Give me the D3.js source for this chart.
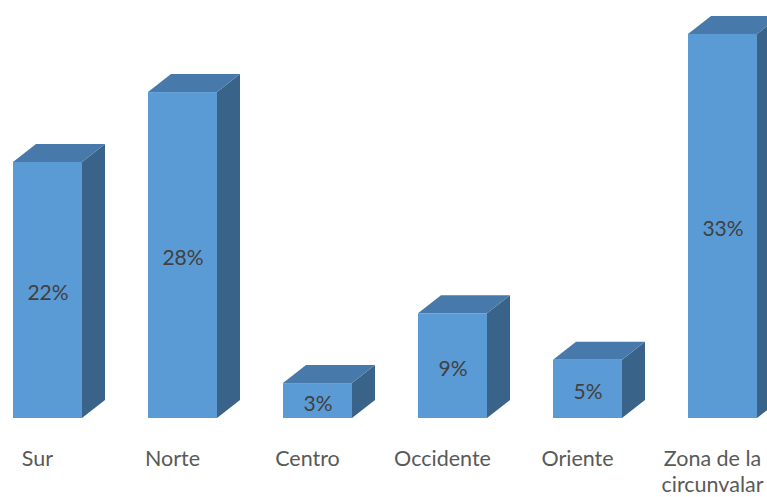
<!DOCTYPE html>
<html><head><meta charset="utf-8">
<script src="https://cdn.jsdelivr.net/npm/d3@7"></script>
<style>html,body{margin:0;padding:0;background:#fff;}svg{display:block;}</style>
</head><body>
<svg id="chart" width="767" height="497"></svg>
<script>
const categories = ["Sur", "Norte", "Centro", "Occidente", "Oriente", "Zona de la circunvalar"];
const categoryLines = [["Sur"], ["Norte"], ["Centro"], ["Occidente"], ["Oriente"], ["Zona de la", "circunvalar"]];
const values = [22, 28, 3, 9, 5, 33];
const valueLabels = ["22%", "28%", "3%", "9%", "5%", "33%"];

const svg = d3.select("#chart");
const x = d3.scaleBand().domain(categories).range([13, 757]).paddingInner(66/135).paddingOuter(0);
const y = d3.scaleLinear().domain([0, 33]).range([418, 418 - 33*11.64]);
const dx = 23, dy = -18;
const colFront = "#5B9BD5", colTop = "#4779AA", colSide = "#3A6389";

const g = svg.append("g");
categories.forEach((c, i) => {
  const x0 = x(c), w = x.bandwidth(), yt = y(values[i]), yb = y(0);
  const bar = g.append("g");
  bar.append("path").attr("d", `M${x0+w},${yt} L${x0+w+dx},${yt+dy} L${x0+w+dx},${yb+dy} L${x0+w},${yb} Z`).attr("fill", colSide);
  bar.append("path").attr("d", `M${x0},${yt} L${x0+dx},${yt+dy} L${x0+w+dx},${yt+dy} L${x0+w},${yt} Z`).attr("fill", colTop);
  bar.append("rect").attr("x", x0).attr("y", yt).attr("width", w).attr("height", yb - yt).attr("fill", colFront);
  bar.append("text").attr("x", x0 + w/2 + 0.5).attr("y", (yt + yb)/2 + 10)
    .attr("text-anchor", "middle").attr("font-family", "Lato, 'Open Sans', sans-serif").attr("font-size", 21)
    .attr("fill", "#404040").text(valueLabels[i]);
  const t = g.append("text").attr("text-anchor", "middle").attr("font-family", "Lato, 'Open Sans', sans-serif")
    .attr("font-size", 21.5).attr("fill", "#595959");
  categoryLines[i].forEach((ln, j) => {
    t.append("tspan").attr("x", x0 + w/2 - 10).attr("y", 466 + j*26).text(ln);
  });
});
</script>
</body></html>
